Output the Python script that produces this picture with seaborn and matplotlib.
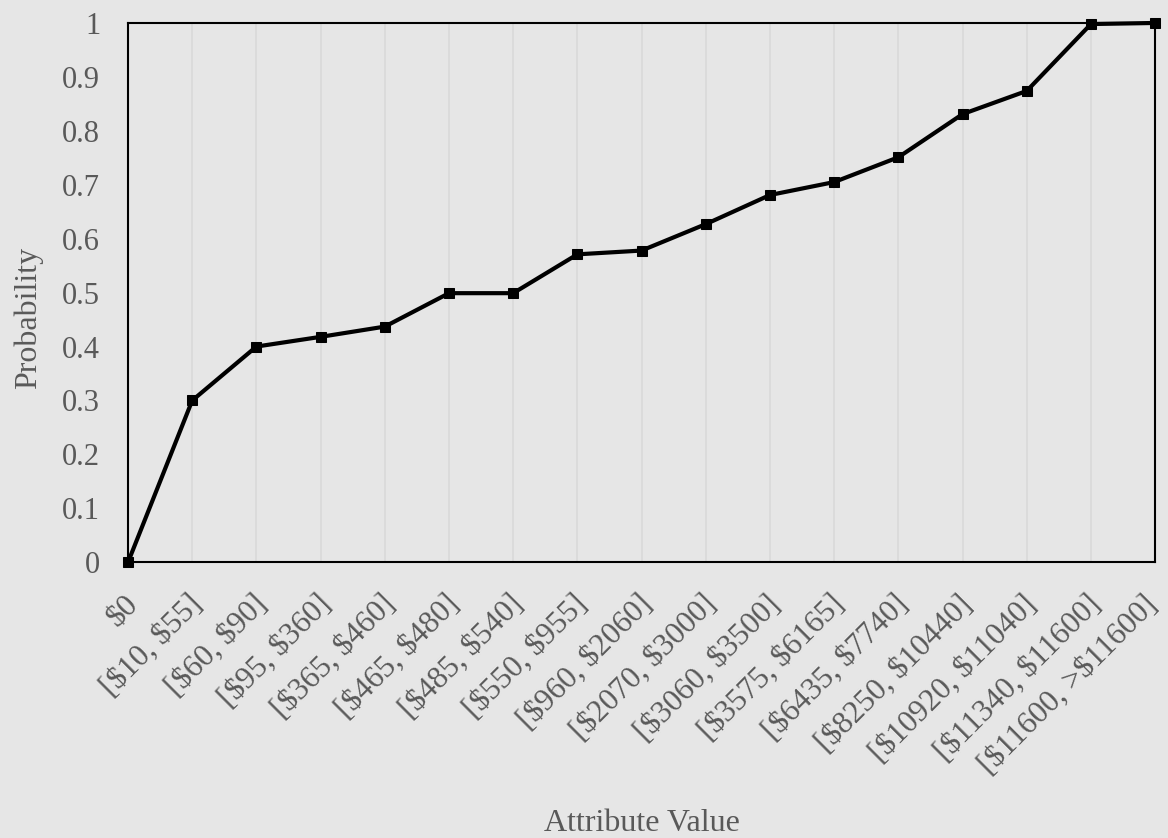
import pandas as pd
import matplotlib
matplotlib.use('Agg')
import matplotlib.pyplot as plt
import matplotlib.transforms as mtransforms
import seaborn as sns

# Data
categories = ['$0', '[$10, $55]', '[$60, $90]', '[$95, $360]', '[$365, $460]',
              '[$465, $480]', '[$485, $540]', '[$550, $955]', '[$960, $2060]',
              '[$2070, $3000]', '[$3060, $3500]', '[$3575, $6165]', '[$6435, $7740]',
              '[$8250, $10440]', '[$10920, $11040]', '[$11340, $11600]',
              '[$11600, >$11600]']
probability = [0.0, 0.30, 0.40, 0.418, 0.437, 0.499, 0.499, 0.571, 0.578,
               0.627, 0.681, 0.705, 0.751, 0.831, 0.874, 0.998, 1.0]
y_ticks = [0, 0.1, 0.2, 0.3, 0.4, 0.5, 0.6, 0.7, 0.8, 0.9, 1]
y_tick_labels = ['0', '0.1', '0.2', '0.3', '0.4', '0.5', '0.6', '0.7', '0.8', '0.9', '1']

df = pd.DataFrame({'pos': range(len(categories)), 'Probability': probability})

sns.set_theme(style='white')
plt.rcParams['font.family'] = ['Liberation Serif', 'DejaVu Serif']
plt.rcParams['text.parse_math'] = False

bg = '#e6e6e6'
txt = '#595959'
fig, ax = plt.subplots(figsize=(11.68, 8.38), dpi=100)
fig.patch.set_facecolor(bg)
ax.set_facecolor(bg)

sns.lineplot(data=df, x='pos', y='Probability', color='black', linewidth=3,
             marker='s', markersize=7, markeredgecolor='black', ax=ax,
             clip_on=False, zorder=5)

ax.set_xlim(0, len(categories) - 1)
ax.set_ylim(0, 1)
ax.set_xticks(range(len(categories)))
ax.set_xticklabels(categories, rotation=45, ha='right', rotation_mode='anchor')
ax.set_yticks(y_ticks)
ax.set_yticklabels(y_tick_labels)
ax.tick_params(axis='both', length=0, labelcolor=txt)
ax.tick_params(axis='y', pad=20, labelsize=22)
ax.tick_params(axis='x', pad=20, labelsize=22.5)

# pull the rotated labels slightly left; the last one a bit more so it stays inside
xlabels = ax.get_xticklabels()
for i, lbl in enumerate(xlabels):
    dx = -12 if i == len(xlabels) - 1 else -4
    shift = mtransforms.ScaledTranslation(dx / 100, 0, fig.dpi_scale_trans)
    lbl.set_transform(lbl.get_transform() + shift)

ax.grid(axis='x', color='#d9d9d9', linewidth=1.2)
ax.grid(axis='y', visible=False)
for s in ax.spines.values():
    s.set_color('black')
    s.set_linewidth(1.5)

ax.set_xlabel('Attribute Value', fontsize=23, color=txt)
ax.set_ylabel('Probability', fontsize=23, color=txt)
ax.xaxis.set_label_coords(0.5, -0.458)
ax.yaxis.set_label_coords(-0.0828, 0.453)

fig.subplots_adjust(left=0.1096, right=0.989, top=0.9726, bottom=0.329)
fig.savefig('out.png', dpi=100, facecolor=bg)
